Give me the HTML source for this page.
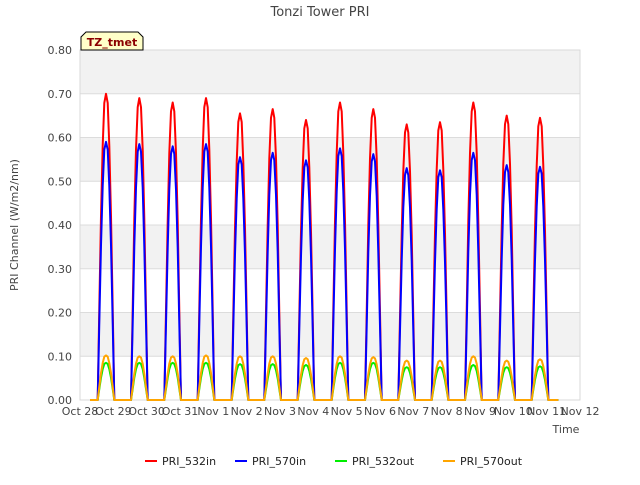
<!DOCTYPE html>
<html><head><meta charset="utf-8"><style>
body{margin:0;background:#fff;font-family:"Liberation Sans","DejaVu Sans",sans-serif}
svg text{font-family:"DejaVu Sans","Liberation Sans",sans-serif}
</style></head><body>
<svg id="chart" width="640" height="480">
<rect width="640" height="480" fill="#fff"/>
<g id="bands"></g>
<g id="grid"></g>
<rect x="80" y="50" width="500" height="350" fill="none" stroke="#d9d9d9"/>
<g id="yticks"></g><g id="xticks"></g>
<g id="series"></g>
<text x="320" y="16" text-anchor="middle" font-size="13" fill="#444">Tonzi Tower PRI</text>
<text x="18" y="225" text-anchor="middle" font-size="11" fill="#444" transform="rotate(-90 18 225)">PRI Channel (W/m2/nm)</text>
<text x="566" y="433" text-anchor="middle" font-size="11" fill="#444">Time</text>
<g>
<path d="M81 50 L81 37 L86 32 L138 32 L143 37 L143 50 Z" fill="#ffffc8" stroke="#000"/>
<text x="112" y="46" text-anchor="middle" font-size="11" font-weight="bold" fill="#8b0000">TZ_tmet</text>
</g>
<g id="legend"></g>
</svg>
<script>
const dayLabels=["Oct 28","Oct 29","Oct 30","Oct 31","Nov 1","Nov 2","Nov 3","Nov 4","Nov 5","Nov 6","Nov 7","Nov 8","Nov 9","Nov 10","Nov 11","Nov 12"];
const yTicks=[0,0.1,0.2,0.3,0.4,0.5,0.6,0.7,0.8];
const peakDay=[0.78,1.78,2.78,3.78,4.8,5.78,6.78,7.8,8.8,9.8,10.8,11.8,12.8,13.8];
const pri532in=[0.70,0.69,0.68,0.69,0.655,0.665,0.64,0.68,0.665,0.63,0.635,0.68,0.65,0.645];
const pri570in=[0.59,0.585,0.58,0.585,0.555,0.565,0.548,0.575,0.562,0.53,0.525,0.565,0.537,0.533];
const pri532out=[0.085,0.085,0.085,0.085,0.082,0.082,0.08,0.085,0.085,0.075,0.075,0.08,0.075,0.077];
const pri570out=[0.102,0.1,0.1,0.102,0.1,0.1,0.096,0.1,0.098,0.09,0.09,0.1,0.09,0.093];
const profOffset=[-0.25,-0.2,-0.15,-0.1,-0.05,0,0.05,0.1,0.15,0.2,0.25];
const profValue=[0,0.3,0.6,0.83,0.97,1,0.97,0.83,0.6,0.3,0];
const X0=80,X1=580,Y0=400,Y1=50;
const xs=d=>X0+(X1-X0)*d/15;
const ys=v=>Y0-(Y0-Y1)*v/0.8;
const NS="http://www.w3.org/2000/svg";
function mk(tag,attrs,parent){const e=document.createElementNS(NS,tag);for(const k in attrs)e.setAttribute(k,attrs[k]);parent.appendChild(e);return e;}
const bands=document.getElementById('bands'),grid=document.getElementById('grid');
for(let i=0;i<8;i++){ if(i%2===1) continue;
 const b=mk('rect',{x:X0,y:ys(0.8-0.1*i),width:500,height:ys(0)-ys(0.1),fill:'#f2f2f2'},bands);
 
 
}
const yt=document.getElementById('yticks');
yTicks.forEach(v=>{
 const l=mk('line',{x1:X0,x2:X1,y1:ys(v),y2:ys(v),stroke:'#dcdcdc'},grid);
 
 
 const t=mk('text',{x:72,y:ys(v)+4,'text-anchor':'end','font-size':'11',fill:'#444'},yt);
 t.textContent=v.toFixed(2);
 
 
});
const xt=document.getElementById('xticks');
dayLabels.forEach((s,i)=>{
 const t=mk('text',{x:xs(i),y:415,'text-anchor':'middle','font-size':'11',fill:'#444'},xt);
 t.textContent=s;
 
 
});
function path(peaks){
 let pts=[[xs(0.3),ys(0)]];
 peaks.forEach((p,i)=>{profOffset.forEach((o,j)=>pts.push([xs(peakDay[i]+o),ys(p*profValue[j])]));});
 pts.push([xs(14.35),ys(0)]);
 return 'M'+pts.map(q=>q[0].toFixed(1)+' '+q[1].toFixed(1)).join(' L');
}
const series=[["PRI_532in",pri532in,"#ff0000"],["PRI_570in",pri570in,"#0000ff"],["PRI_532out",pri532out,"#00ee00"],["PRI_570out",pri570out,"#ffa500"]];
const sg=document.getElementById('series'),lg=document.getElementById('legend');
const lx=[145,235,335,443];
series.forEach((s,i)=>{
 const p=mk('path',{d:path(s[1]),fill:'none',stroke:s[2],'stroke-width':'2','stroke-linejoin':'round'},sg);
 
 
 const g=mk('g',{},lg);
 
 
 mk('line',{x1:lx[i],x2:lx[i]+12,y1:461,y2:461,stroke:s[2],'stroke-width':'2'},g);
 const t=mk('text',{x:lx[i]+17,y:465,'font-size':'11',fill:'#222'},g);
 t.textContent=s[0];
});
</script>
</body></html>
